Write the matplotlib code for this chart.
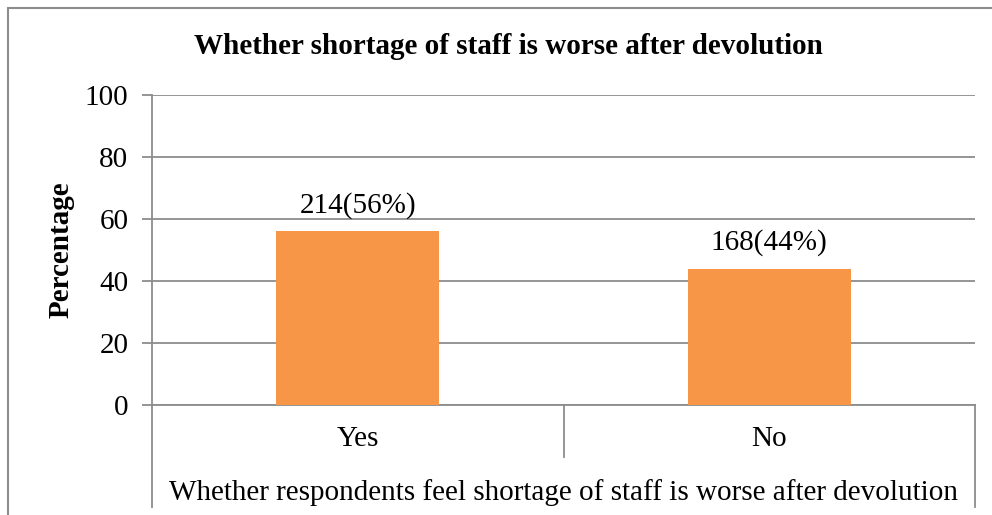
import matplotlib.pyplot as plt
from matplotlib.patches import Rectangle
from matplotlib.transforms import blended_transform_factory

categories = ['Yes', 'No']
percent = [56, 44]
counts = [214, 168]
yticks = [0, 20, 40, 60, 80, 100]

plt.rcParams['font.family'] = ['Liberation Serif', 'DejaVu Serif']

W, H = 992, 515
fig = plt.figure(figsize=(W / 100, H / 100), dpi=100)
ax = fig.add_axes([152 / W, 1 - 405 / H, (975 - 152) / W, (405 - 95) / H])

grey = '#8c8c8c'
fs = 21
bars = ax.bar(range(len(categories)), percent, width=0.395, color='#F79646', zorder=3)
for b, c, p in zip(bars, counts, percent):
    ax.text(b.get_x() + b.get_width() / 2, p + 4, f'{c}({p}%)',
            ha='center', va='bottom', fontsize=fs)

ax.set_xlim(-0.5, len(categories) - 0.5)
ax.set_ylim(0, 100)
ax.set_yticks(yticks)
ax.tick_params(axis='y', labelsize=fs, length=7, width=1.3, color=grey, pad=10)
ax.set_xticks([])
ax.yaxis.grid(True, color=grey, linewidth=1.3, zorder=0)
ax.set_axisbelow(True)
for s in ['top', 'right']:
    ax.spines[s].set_visible(False)
ax.spines['left'].set_color(grey)
ax.spines['left'].set_linewidth(1.3)
ax.spines['bottom'].set_color(grey)
ax.spines['bottom'].set_linewidth(1.3)

# multi-level category axis: labels and dividers below the plot
tr = blended_transform_factory(ax.transData, ax.transAxes)
px = 1 / (405 - 95)  # one pixel in axes fraction
for i, cat in enumerate(categories):
    ax.text(i, -34 * px, cat, transform=tr, ha='center', va='center', fontsize=fs)
ax.plot([-0.5, -0.5], [0, -102 * px], transform=tr, color=grey, lw=1.3, clip_on=False)
ax.plot([0.5, 0.5], [0, -52 * px], transform=tr, color=grey, lw=1.3, clip_on=False)
ax.plot([1.5, 1.5], [0, -102 * px], transform=tr, color=grey, lw=1.3, clip_on=False)
ax.text(0.5, -88 * px, 'Whether respondents feel shortage of staff is worse after devolution',
        transform=tr, ha='center', va='center', fontsize=fs)

ax.set_ylabel('Percentage', fontsize=fs, fontweight='bold', labelpad=7)
fig.text(508 / W, 1 - 46 / H, 'Whether shortage of staff is worse after devolution',
         ha='center', va='center', fontsize=fs, fontweight='bold')

# chart border
fig.patches.append(Rectangle((8 / W, -0.1), (W - 8) / W + 0.05, 1.1 - 7.5 / H,
                             transform=fig.transFigure, fill=False,
                             edgecolor=grey, linewidth=1.5))

fig.savefig('out.png', dpi=100)
